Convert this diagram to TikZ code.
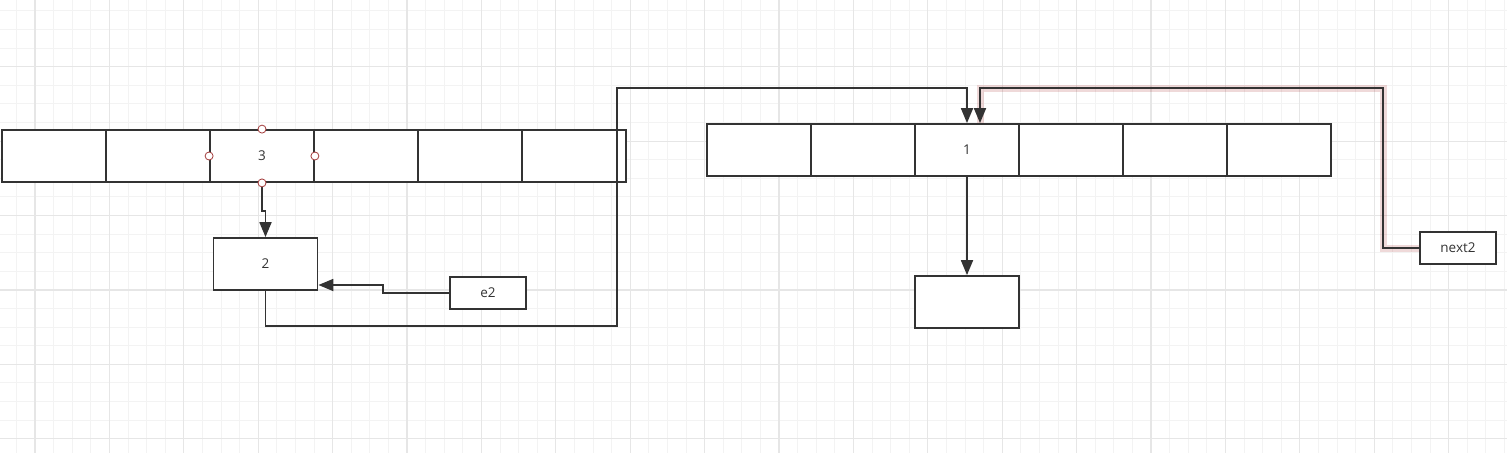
\documentclass[tikz,border=0pt]{standalone}
\usepackage{fontspec}
\setmainfont{Open Sans}
\usetikzlibrary{arrows.meta}
\definecolor{lnGray}{HTML}{333333}
\definecolor{hdlRed}{HTML}{A33B3B}
\definecolor{gridMinor}{HTML}{F3F3F3}
\definecolor{gridMajor}{HTML}{E6E6E6}

\begin{document}
\begin{tikzpicture}[x=1pt,y=-1pt,font=\fontsize{13.5}{15}\selectfont,
    cell/.style={draw=lnGray,line width=1.8pt,fill=white,minimum width=104pt,minimum height=52pt,inner sep=0pt,text=lnGray},
    tag/.style={cell,minimum width=76pt,minimum height=32pt},
    link/.style={draw=lnGray,line width=1.8pt},
    arr/.style={link,-{Triangle[length=15pt,width=12pt]}},
    glow/.style={preaction={-,draw=red!60!black,draw opacity=.15,line width=7pt}},
    handle/.style={draw=hdlRed,fill=white,line width=.8pt}]
  % background grid
  \fill[white] (0,0) rectangle (1507,453);
  \useasboundingbox (0,0) rectangle (1507,453);
  \foreach \i in {0,...,81} \draw[gridMinor,line width=1pt] ({-2.2+18.6*\i},0) -- ++(0,453);
  \foreach \i in {1,...,25} \draw[gridMinor,line width=1pt] (0,{-7.7+18.6*\i}) -- ++(1507,0);
  \foreach \i in {0,...,20} \draw[gridMajor,line width=1.2pt] ({35+74.4*\i},0) -- ++(0,453);
  \foreach \i in {1,...,6} \draw[gridMajor,line width=1.2pt] (0,{-7.7+74.4*\i}) -- ++(1507,0);

  % the two arrays
  \foreach \i/\t in {1/{},2/{},3/3,4/{},5/{},6/{}}
    \node[cell] (a\i) at ({-50+104*\i},156) {\t};
  \foreach \i/\t in {1/{},2/{},3/1,4/{},5/{},6/{}}
    \node[cell] (b\i) at ({655+104*\i},150) {\t};

  \node[cell] (n2) at (265.5,264) {2};
  \node[tag] (e2) at (488,293) {e2};
  \node[cell] (n4) at (967,302) {};
  \node[tag] (nx) at (1458,248) {next2};

  \coordinate (lo) at (617,326);
  \coordinate (hi) at (617,88);
  \coordinate (rt) at (1383,88);

  \draw[arr] (a3.south) -- ++(0,28) -| (n2.north);
  \draw[arr] (e2.west) -- ++(-66,0) |- ([yshift=-21pt]n2.east);
  \draw[arr] (n2.south) |- (lo) -- (hi) -| (b3.north);
  \draw[arr] (b3.south) -- (n4.north);
  \draw[arr,glow] (nx.west) -| (rt) -| ([xshift=13pt]b3.north);

  % selection handles
  \foreach \s in {north,south,east,west}
    \draw[handle] (a3.\s) circle (4);
\end{tikzpicture}
\end{document}
